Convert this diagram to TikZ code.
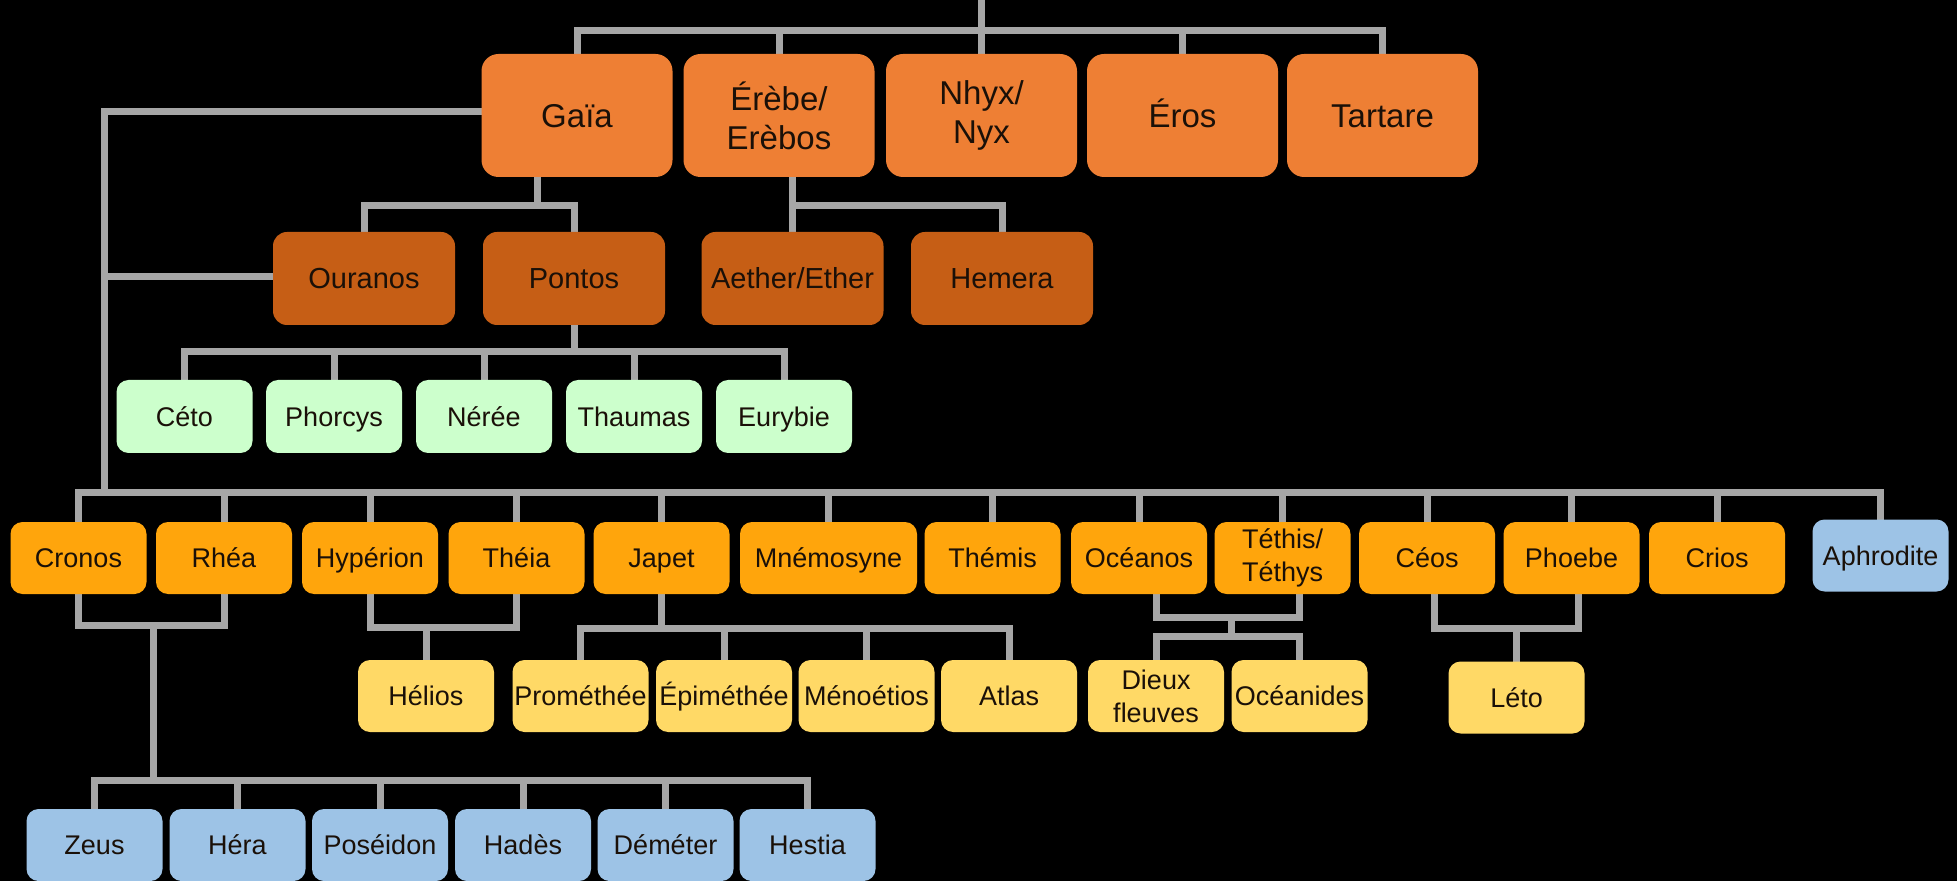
\documentclass[tikz,border=0pt]{standalone}
\usepackage{fontspec}
\setmainfont{Liberation Sans}
\pgfdeclarelayer{back}
\pgfdeclarelayer{bg}
\pgfsetlayers{back,bg,main}
\definecolor{linegray}{HTML}{A6A6A6}
\definecolor{toporange}{HTML}{EE7F34}
\definecolor{darkorange}{HTML}{C65E15}
\definecolor{seagreen}{HTML}{CCFFCC}
\definecolor{titan}{HTML}{FFA50C}
\definecolor{gold}{HTML}{FFD966}
\definecolor{olymp}{HTML}{9DC3E6}
\definecolor{txt}{HTML}{1A1008}
\begin{document}
\begin{tikzpicture}[x=0.5pt,y=-0.5pt,
  box/.style={rounded corners=6pt, inner sep=0pt, align=center, text=txt,
    minimum width=68pt, minimum height=36pt, font=\fontsize{13.5}{16.5}\selectfont,
    text height=12.7pt, text depth=3pt},
  topbox/.style={box, fill=toporange, minimum width=95.5pt, minimum height=61.5pt,
    rounded corners=8.5pt, font=\fontsize{16.5}{19.5}\selectfont,
    text height=16.3pt, text depth=4pt},
  midbox/.style={box, fill=darkorange, minimum width=91pt, minimum height=46.5pt,
    rounded corners=7pt, font=\fontsize{14.5}{17}\selectfont,
    text height=13.9pt, text depth=3.5pt},
  twoline/.style={text height={}, text depth={}},
  seabox/.style={box, fill=seagreen, minimum height=36.5pt},
  titanbox/.style={box, fill=titan},
  childbox/.style={box, fill=gold},
  olybox/.style={box, fill=olymp},
  link/.style={draw=linegray, line width=3.5pt, line cap=rect}
]
\begin{pgfonlayer}{back}
\fill[black] (0,0) rectangle (1957,881);
\end{pgfonlayer}
\useasboundingbox (0,0) rectangle (1957,881);

% top row
\node[topbox] (gaia) at (577,115.5) {Gaïa};
\node[topbox, twoline] (erebe) at (779,115.5) {Érèbe/\\Erèbos};
\node[topbox, twoline] (nyx) at (981.5,115.5) {Nhyx/\\Nyx};
\node[topbox] (eros) at (1182.5,115.5) {Éros};
\node[topbox] (tartare) at (1382.5,115.5) {Tartare};

% second row
\node[midbox] (ouranos) at (364,278.5) {Ouranos};
\node[midbox] (pontos) at (574,278.5) {Pontos};
\node[midbox] (aether) at (792.5,278.5) {Aether/Ether};
\node[midbox] (hemera) at (1002,278.5) {Hemera};

% sea gods
\node[seabox] (ceto) at (184.5,416.5) {Céto};
\node[seabox] (phorcys) at (334,416.5) {Phorcys};
\node[seabox] (neree) at (484,416.5) {Nérée};
\node[seabox] (thaumas) at (634,416.5) {Thaumas};
\node[seabox] (eurybie) at (784,416.5) {Eurybie};

% titans
\node[titanbox] (cronos) at (78.5,558) {Cronos};
\node[titanbox] (rhea) at (224,558) {Rhéa};
\node[titanbox] (hyperion) at (370,558) {Hypérion};
\node[titanbox] (theia) at (516.5,558) {Théia};
\node[titanbox] (japet) at (661.5,558) {Japet};
\node[titanbox, minimum width=88.5pt] (mnemosyne) at (828.5,558) {Mnémosyne};
\node[titanbox] (themis) at (992.5,558) {Thémis};
\node[titanbox] (oceanos) at (1139,558) {Océanos};
\node[titanbox, twoline] (tethys) at (1282.5,558) {Téthis/\\Téthys};
\node[titanbox] (ceos) at (1427,558) {Céos};
\node[titanbox] (phoebe) at (1571.5,558) {Phoebe};
\node[titanbox] (crios) at (1717,558) {Crios};
\node[olybox] (aphrodite) at (1880.5,555.5) {Aphrodite};

% children of titans
\node[childbox] (helios) at (426,696) {Hélios};
\node[childbox] (promethee) at (580.5,696) {Prométhée};
\node[childbox] (epimethee) at (724,696) {Épiméthée};
\node[childbox] (menoetios) at (866.5,696) {Ménoétios};
\node[childbox] (atlas) at (1009,696) {Atlas};
\node[childbox, twoline] (fleuves) at (1156,696) {Dieux\\fleuves};
\node[childbox] (oceanides) at (1299.5,696) {Océanides};
\node[childbox] (leto) at (1516.5,697.5) {Léto};

% olympians
\node[olybox] (zeus) at (94.5,845) {Zeus};
\node[olybox] (hera) at (237.5,845) {Héra};
\node[olybox] (poseidon) at (380,845) {Poséidon};
\node[olybox] (hades) at (523,845) {Hadès};
\node[olybox] (demeter) at (665.5,845) {Déméter};
\node[olybox] (hestia) at (807.5,845) {Hestia};

\coordinate (root) at (981.5,0);
\coordinate (topbar) at (0,30.5);
\coordinate (spine) at (104,0);
\coordinate (gbar) at (0,206);
\coordinate (sbar) at (0,352);
\coordinate (titanbar) at (0,492);
\coordinate (crbar) at (0,625);
\coordinate (crmid) at (153,625);
\coordinate (obar) at (0,780);
\coordinate (hbar) at (0,627);
\coordinate (jbar) at (0,628);
\coordinate (obar1) at (0,617);
\coordinate (obar2) at (0,636);
\coordinate (omid) at (1231,617);
\coordinate (cbar) at (0,628);

\begin{pgfonlayer}{bg}
% primordial
\draw[link] (root) -- (nyx.north);
\draw[link] (gaia.north) |- (tartare.north |- topbar) -- (tartare.north);
\draw[link] (erebe.north) -- (erebe.north |- topbar);
\draw[link] (eros.north) -- (eros.north |- topbar);
% Gaia spine
\draw[link] ([yshift=2pt]gaia.west) -| (spine |- titanbar);
\draw[link] ([yshift=1pt]ouranos.west) -- ([yshift=1pt]ouranos.west -| spine);
% Gaia -> Ouranos, Pontos
\draw[link] ([xshift=-20pt]gaia.south) -- ([xshift=-20pt]gaia.south |- gbar);
\draw[link] (ouranos.north) |- (pontos.north |- gbar) -- (pontos.north);
% Erebe -> Aether, Hemera
\draw[link] (erebe.south -| aether.north) -- (aether.north);
\draw[link] (aether.north |- gbar) -| (hemera.north);
% Pontos -> sea gods
\draw[link] (pontos.south) -- (pontos.south |- sbar);
\draw[link] (ceto.north) |- (eurybie.north |- sbar) -- (eurybie.north);
\foreach \n in {phorcys,neree,thaumas}
  \draw[link] (\n.north) -- (\n.north |- sbar);
% titans bar
\draw[link] (cronos.north) |- (aphrodite.north |- titanbar) -- (aphrodite.north);
\foreach \n in {rhea,hyperion,theia,japet,mnemosyne,themis,oceanos,tethys,ceos,phoebe,crios}
  \draw[link] (\n.north) -- (\n.north |- titanbar);
% Cronos + Rhea -> olympians
\draw[link] (cronos.south) |- (rhea.south |- crbar) -- (rhea.south);
\draw[link] (crmid) -- (crmid |- obar);
\draw[link] (zeus.north) |- (hestia.north |- obar) -- (hestia.north);
\foreach \n in {hera,poseidon,hades,demeter}
  \draw[link] (\n.north) -- (\n.north |- obar);
% Hyperion + Theia -> Helios
\draw[link] (hyperion.south) |- (theia.south |- hbar) -- (theia.south);
\draw[link] (helios.north) -- (helios.north |- hbar);
% Japet -> children
\draw[link] (japet.south) -- (japet.south |- jbar);
\draw[link] (promethee.north) |- (atlas.north |- jbar) -- (atlas.north);
\foreach \n in {epimethee,menoetios}
  \draw[link] (\n.north) -- (\n.north |- jbar);
% Oceanos + Tethys -> children
\draw[link] (oceanos.south -| fleuves.north) |- (oceanides.north |- obar1) -- (tethys.south -| oceanides.north);
\draw[link] (omid) -- (omid |- obar2);
\draw[link] (fleuves.north) |- (oceanides.north |- obar2) -- (oceanides.north);
% Ceos + Phoebe -> Leto
\draw[link] ([xshift=3.5pt]ceos.south) |- ([xshift=3.5pt]phoebe.south |- cbar) -- ([xshift=3.5pt]phoebe.south);
\draw[link] (leto.north) -- (leto.north |- cbar);
\end{pgfonlayer}
\end{tikzpicture}
\end{document}
